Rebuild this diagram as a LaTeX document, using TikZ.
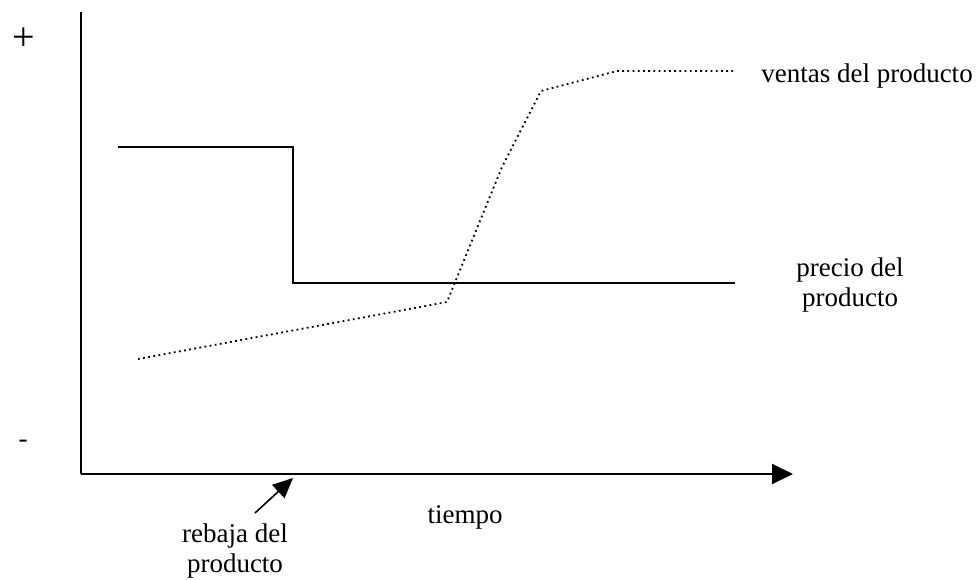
\documentclass[tikz,border=0pt]{standalone}
\usepackage{fontspec}
\setmainfont{Liberation Serif}
\usetikzlibrary{arrows.meta}
\begin{document}
\begin{tikzpicture}[x=1pt,y=-1pt,line width=2pt,
		lbl/.style={font=\fontsize{27}{30}\selectfont,inner sep=0pt,align=center},
		sign/.style={font=\fontsize{40}{42}\selectfont,inner sep=0pt},
		ventasline/.style={line width=1.8pt,dash pattern=on 1.8pt off 3.4pt},
		axisarrow/.style={-{Triangle[length=21pt,width=20pt]}},
		ptr/.style={line width=1.6pt,-{Triangle[length=20pt,width=18pt]}}]
		\useasboundingbox (0,0) rectangle (980,579);
		% axes
		\coordinate (o) at (81,474);
		\coordinate (ytop) at (81,12);
		\coordinate (xend) at (793,474);
		\draw (ytop) -- (o);
		\draw[axisarrow] (o) -- (xend);
		\node[sign] (plus) at (24,39) {+};
		\node[lbl,anchor=base] (minus) at (23,447) {-};
		% precio
		\draw (118,147) -- (293,147) -- (293,283) -- (735,283);
		% ventas
		\draw[ventasline] (138,359) -- (447,302) -- (458,275) -- (502,167) -- (541,91) -- (617,71) -- (735,71);
		% labels
		\node[lbl,anchor=base] (ventas) at (867,82) {ventas del producto};
		\node[lbl] (precio) at (850,285) {precio del\\producto};
		\node[lbl,anchor=base] (tiempo) at (465,523) {tiempo};
		\node[lbl] (rebaja) at (235,551) {rebaja del\\producto};
		\coordinate (rebtail) at (255,513);
		\coordinate (cut) at (293,478);
		\draw[ptr] (rebtail) -- (cut);
\end{tikzpicture}
\end{document}
